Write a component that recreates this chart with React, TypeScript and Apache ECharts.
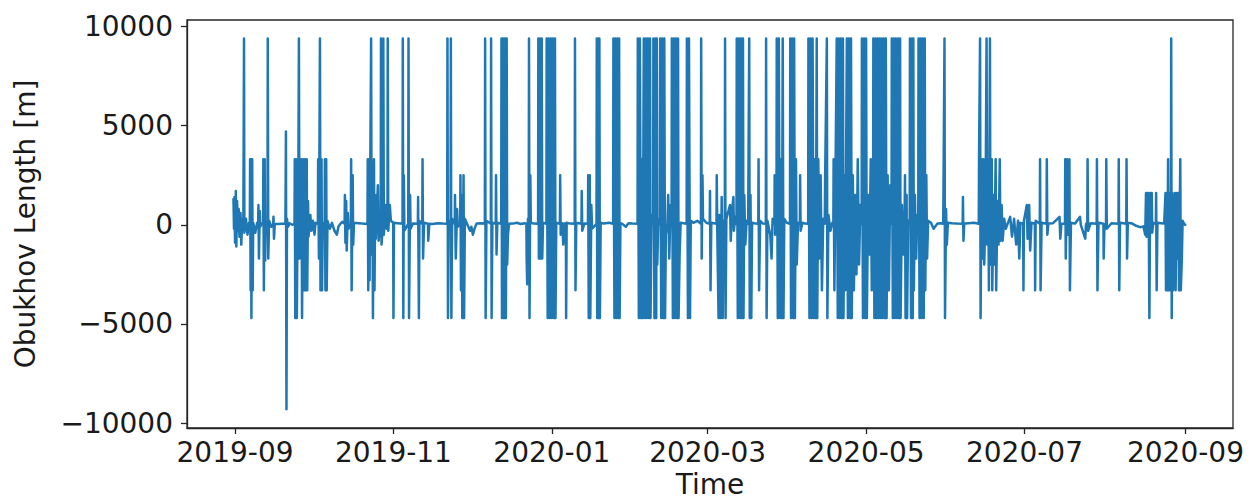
import React, { useEffect, useRef } from "react";
import * as echarts from "echarts";

// x = days since 2019-09-01, y = Obukhov length [m]
const sep2019: [number, number][] = [
  [-0.6, 1300], [-0.4, -200], [-0.2, 1400], [0.0, -900], [0.3, 1700], [0.5, -1100], [0.8, 1200], [1.0, -300],
  [1.4, 800], [1.7, -600], [2.1, 600], [2.4, -1000], [2.8, 300], [3.2, -200],
  [3.45, 9400], [3.6, -400], [4.2, 300], [4.8, -500], [5.4, 100],
  [5.7, 50], [5.8, 3300], [6.0, -3300], [6.2, 3300], [6.3, -4700], [6.6, 3300], [6.8, -3300], [7.0, 100],
  [7.8, -400], [8.5, 100],
  [8.9, 50], [9.0, 1000], [9.2, -1700], [9.5, 700], [9.7, -100],
  [10.3, 60], [10.8, 50], [10.9, 3300], [11.1, -3300], [11.4, 3300], [11.6, -1800], [11.9, 100],
  [12.5, 50], [12.6, 9400], [12.8, -1700], [13.1, 200], [14.0, -100],
  [14.7, 50], [14.8, 400], [15.0, -700], [15.3, 50], [16.5, 40], [18.0, 50], [19.4, 60],
  [19.5, 50], [19.6, 4700], [19.8, -9300], [20.0, 300], [20.4, -100], [21.0, 80], [22.0, 0],
  [22.9, 50], [23.0, 3300], [23.2, -4700], [23.5, 3300], [23.8, -4700], [24.1, 800], [24.3, -300],
  [24.6, 9400], [24.8, -1700], [25.1, 100],
  [25.5, 50], [25.6, 3300], [25.8, -4700], [26.2, 3300], [26.4, -3300], [26.9, 3300], [27.1, -3300],
  [27.6, 3300], [27.8, -3300], [28.1, 1200], [28.3, -600],
  [29.0, 500], [29.4, -300], [30.0, 200],
];

const oct2019: [number, number][] = [
  [30.6, -500], [31.0, 100],
  [31.9, 50], [32.0, 3300], [32.3, -1700], [32.7, 9400], [32.9, -3300], [33.3, 3300], [33.5, -3300], [33.8, 100],
  [34.5, 50], [34.6, 3300], [34.8, -3300], [35.1, 3300], [35.3, -3300], [35.6, 200],
  [36.5, -200], [37.3, 100], [38.3, -300], [39.2, -500], [39.8, -100], [40.6, 60], [41.3, 150],
  [42.2, 50], [42.3, 1500], [42.5, -900], [42.8, 1200], [43.0, -1300], [43.4, 600], [43.7, -200],
  [44.6, 50], [44.7, 3300], [44.9, -3300], [45.3, 2500], [45.5, -1000], [45.8, 100],
  [47.5, 80], [49.0, 60], [51.0, 40],
  [51.1, 3300], [51.3, -3300], [51.6, 3300], [51.8, -2800],
  [52.4, 9400], [52.6, -1500], [52.9, 2500], [53.1, -4700], [53.5, 3300], [53.7, -3300], [54.0, 1500], [54.2, -700],
  [55.0, 2000], [55.3, -800], [55.8, 100],
  [56.1, 50], [56.2, 9400], [56.4, -1000], [57.0, 50], [57.1, 9400], [57.3, -500], [58.0, 1000], [58.4, -200],
  [58.7, 50], [58.8, 9400], [59.0, -300], [59.6, 1000], [60.0, 200],
];

const nov2019: [number, number][] = [
  [60.9, 100], [61.0, -4700], [61.2, 100], [62.5, 80], [63.8, 60],
  [64.5, 50], [64.6, 9400], [64.8, -4700], [65.0, 2500], [65.2, -300],
  [66.7, 50], [66.8, 9400], [67.0, -4700], [67.4, 1500], [67.6, -200], [68.5, 60],
  [70.4, 50], [70.5, 1400], [70.8, -4700], [71.0, 200],
  [72.1, 50], [72.2, 3300], [72.4, -1700], [72.8, 100],
  [74.3, 50], [74.4, -800], [74.8, 50], [76.0, 40], [78.0, 80], [80.0, 60],
  [81.7, 50], [81.8, 9400], [82.0, -4700], [82.3, 200], [83.0, 50], [83.1, 9400], [83.3, -4700], [83.6, 300],
  [84.6, 50], [84.7, 1500], [85.0, -1700], [85.5, 800], [85.8, -100],
  [86.7, 50], [86.8, 2500], [87.0, -3300], [87.3, 1500], [87.5, -4700], [88.0, 2500], [88.2, -4700], [88.5, 300],
  [90.5, -300],
];

const dec2019: [number, number][] = [
  [91.0, -100], [91.6, -500], [92.2, -200], [93.0, 60], [95.0, 80],
  [96.2, 50], [96.3, 9400], [96.5, -4700], [96.8, 200], [98.5, 50], [98.6, 9400], [98.8, -4700], [99.1, 100],
  [100.4, 50], [100.5, 2500], [100.7, -1500], [101.0, 100],
  [102.5, 50], [102.6, 9400], [102.8, -4700], [103.1, 9400], [103.3, -4700], [103.6, 9400], [103.8, -4700],
  [104.1, 9400], [104.3, -4700], [104.6, 9400], [104.8, -2000], [105.1, -500], [105.5, 50],
  [107.0, 60], [108.5, 100], [110.0, 40], [111.5, 80],
  [112.2, 50], [112.3, -1700], [112.5, -3000], [112.8, 300],
  [113.1, 50], [113.2, 9400], [113.4, -4700], [113.7, 2500], [113.9, 100], [115.0, 60],
  [116.7, 50], [116.8, 9400], [117.0, -1700], [117.5, 9400], [117.7, -1700], [118.1, 9400], [118.3, -1700], [118.6, 100],
  [119.9, 50], [120.0, 9400], [120.4, -4700], [120.8, 9400], [121.2, -4700], [121.6, 9400], [122.0, -4700],
  [122.4, 9400], [122.8, -4700], [123.2, 9400], [123.4, -4700], [123.7, 100],
];

const jan2020: [number, number][] = [
  [125.1, 50], [125.2, 2500], [125.4, -500], [126.0, 80], [126.4, -1000], [126.8, 60],
  [127.4, 50], [127.5, -4700], [127.7, 100], [129.0, 60],
  [130.8, 50], [130.9, 9400], [131.1, -3300], [131.4, 100],
  [133.4, 50], [133.5, 1700], [133.7, -300], [134.5, 60],
  [135.9, 50], [136.0, 2500], [136.2, -4700], [136.6, 2500], [136.8, -4700], [137.2, 1000], [137.5, -200],
  [139.2, 50], [139.3, 9400], [139.5, -4700], [139.8, 9400], [140.0, -4700], [140.3, 9400], [140.5, -4700], [140.8, 100],
  [142.0, 60], [144.0, 100],
  [145.6, 50], [145.7, 9400], [146.1, -4700], [146.5, 9400], [146.9, -4700], [147.3, 9400], [147.7, -4700],
  [147.9, 9400], [148.1, -4700], [148.4, 60],
  [149.0, 60], [150.5, -100], [151.5, 80],
];

const feb2020: [number, number][] = [
  [153.0, 60], [155.0, 50],
  [155.1, 9400], [155.5, -4700], [155.9, 9400], [156.3, -4700], [156.7, 3300], [157.0, -4700], [157.4, 9400],
  [157.8, -4700], [158.2, 9400], [158.6, -4700], [159.0, 9400], [159.4, -4700], [159.8, 9400], [160.0, -4700], [160.4, 500],
  [161.0, 50], [161.1, 9400], [161.5, -4700], [161.9, 9400], [162.2, -4700], [162.4, 9400], [162.6, -2000], [163.0, 300],
  [163.6, 50], [163.7, 9400], [164.1, -4700], [164.5, 9400], [164.9, -4700], [165.3, 9400], [165.6, -4700], [165.9, -500],
  [166.5, 60], [166.8, 1500], [167.2, -1700], [167.7, 1000],
  [168.1, 50], [168.2, 9400], [168.6, -4700], [169.0, 9400], [169.4, -4700], [169.8, 9400], [170.2, -4700],
  [170.6, 9400], [170.8, -4700], [171.2, -1500], [171.6, 100],
  [173.9, 50], [174.0, 9400], [174.4, -4700], [174.8, 9400], [175.2, -4700], [175.5, 200],
  [176.5, 100], [178.0, 200],
  [179.4, 50], [179.5, 9400], [179.7, -1700], [180.0, 2500], [180.2, 300], [181.5, 100],
];

const mar2020: [number, number][] = [
  [182.8, 50], [182.9, 1700], [183.1, -3300], [183.4, 100],
  [185.4, 50], [185.5, 2500], [185.7, -300], [186.2, -4700], [186.5, 500], [187.0, -4700], [187.4, 1400],
  [187.8, -4700], [188.1, 200],
  [188.6, 50], [188.7, 9400], [188.9, -4700], [189.2, 300],
  [190.6, 1000], [190.9, -800], [191.3, 600], [191.9, 1400], [192.1, -300], [192.6, 400],
  [193.1, 50], [193.2, 9400], [193.6, -4700], [194.0, 9400], [194.4, -4700], [194.8, 9400], [195.2, -4700],
  [195.6, 9400], [195.8, -4700], [196.1, 1500], [196.5, -1000], [197.0, 200],
  [197.6, 50], [197.7, 2500], [198.0, 9400], [198.2, -4700], [198.5, 1500], [198.8, -4700], [199.1, 100], [200.5, 60],
  [201.5, 50], [201.6, 3300], [201.8, -3300], [202.2, 200], [203.3, 60],
  [204.4, 50], [204.5, 9400], [204.7, -4700], [205.0, 200],
  [206.1, -500], [206.6, -1700], [207.0, 300], [207.7, 50], [207.8, 2500], [208.0, -500], [208.5, 50],
  [208.6, 9400], [209.0, -4700], [209.4, 9400], [209.8, -4700], [210.2, 3300], [210.6, -4700], [210.9, 9400],
  [211.2, -4700], [211.5, 300], [212.5, 100],
];

const apr2020: [number, number][] = [
  [213.7, 50], [213.8, 9400], [214.1, -4700], [214.5, 9400], [214.9, -4700], [215.3, 9400], [215.6, -4700],
  [216.0, 3300], [216.3, -2000], [216.8, 100],
  [217.5, 50], [217.6, 2500], [217.8, -300], [218.5, 100], [219.5, 60],
  [220.7, 50], [220.8, 9400], [221.2, -4700], [221.6, 9400], [222.0, -4700], [222.4, 9400], [222.8, -4700],
  [223.2, 3300], [223.6, -4700], [224.0, 9400], [224.2, -4700], [224.6, 3300], [225.0, -1700], [225.5, 2500],
  [226.0, -3300], [226.5, 300],
  [227.1, 50], [227.2, 2000], [227.9, 9400], [228.1, -4700], [228.5, 500], [229.3, -300], [230.0, 100],
  [230.4, 50], [230.5, 3300], [230.8, -3300], [231.2, 2000], [231.7, 9400], [232.1, -4700], [232.5, 9400],
  [232.9, -4700], [233.3, 9400], [233.7, -4700], [234.1, 9400], [234.3, -4700], [234.7, 2500], [235.0, -3300],
  [235.6, 9400], [236.0, -4700], [236.4, 9400], [236.8, -4700], [237.2, 9400], [237.5, -4700], [237.9, 2500],
  [238.3, -3300], [238.8, 1500], [239.3, -2500], [239.8, 3300], [240.3, -2000], [240.8, 1000],
  [241.3, 50], [241.4, 9400], [241.8, -4700], [242.2, 9400], [242.6, -4700], [243.0, 9400], [243.3, -4700],
  [243.8, 1500], [244.3, -1500], [244.8, 3300], [245.2, -3300],
];

const may2020: [number, number][] = [
  [245.7, 50], [245.8, 9400], [246.2, -4700], [246.6, 9400], [247.0, -4700], [247.4, 9400], [247.8, -4700],
  [248.2, 9400], [248.6, -4700], [249.0, 9400], [249.4, -4700], [249.8, 9400], [250.2, -4700], [250.6, 9400],
  [250.9, -4700], [251.3, 2500], [251.8, -3300], [252.3, 2000],
  [252.8, 50], [252.9, 9400], [253.3, -4700], [253.7, 9400], [254.1, -4700], [254.5, 9400], [254.9, -4700],
  [255.3, 9400], [255.7, -4700], [256.1, 9400], [256.3, -4700], [256.8, 1000], [257.3, -1500],
  [257.8, 50], [258.0, 2500], [258.2, -4700], [258.6, 1500], [258.8, -4700], [259.2, 200],
  [259.8, 50], [259.9, 9400], [260.3, -4700], [260.7, 9400], [261.0, -4700], [261.2, 9400], [261.4, -3300],
  [261.8, 1500], [262.3, -1700], [262.7, 500],
  [263.1, 50], [263.2, 9400], [263.6, -4700], [264.0, 9400], [264.4, -4700], [264.8, 9400], [265.2, -4700],
  [265.6, 9400], [265.8, -3300], [266.2, 2500], [266.5, -1700], [266.9, 200],
  [268.0, 100], [269.0, -200], [270.5, 60], [272.0, 80],
  [272.7, 50], [272.8, 1500], [273.2, 9400], [273.4, -4700], [273.8, 800], [274.1, -1000], [274.5, 100],
];

const jun2020: [number, number][] = [
  [276.0, 80], [278.0, 60], [280.2, 50], [280.3, 1400], [280.5, -800], [280.8, 60], [282.5, 80], [284.5, 100],
  [286.4, 50], [286.5, 3300], [286.9, 9400], [287.1, -4700], [287.5, 3300], [287.8, -1700], [288.2, 3300],
  [288.5, -2000], [289.0, 500], [289.4, 9400], [289.6, -1000], [290.0, 3300], [290.3, -3300], [290.7, 9400],
  [290.9, -2000], [291.4, 3300], [291.6, -3300], [292.1, 1500], [292.4, -2000], [292.9, 3300], [293.1, -3300],
  [293.6, 1200], [294.0, -1000], [294.5, 3300], [294.7, -800], [295.2, 1000], [295.6, -800], [296.2, 300],
  [296.8, -200], [298.5, 400], [299.2, -600], [300.0, 300], [300.8, -1000], [301.5, 200], [302.0, -1700], [302.4, 100],
];

const jul2020: [number, number][] = [
  [303.5, 50], [303.6, -3300], [303.8, 200], [304.9, 1000], [305.2, -700], [305.8, 1000], [306.2, -1300], [306.7, 100],
  [308.0, 50], [308.1, -3300], [308.3, 200], [309.9, 50], [310.0, 3300], [310.2, -3300], [310.6, 100],
  [312.5, 50], [312.6, 3300], [312.8, -500], [313.2, 60], [315.0, 80],
  [317.5, 400], [317.8, -700], [318.2, 50],
  [319.6, 50], [319.7, 3300], [319.9, -1700], [320.4, 3300], [320.6, -500], [321.3, 3300], [321.5, -3300], [321.9, 100],
  [323.5, 60], [325.4, 400], [325.7, 0], [327.4, -700], [327.7, 50], [328.2, 50], [328.3, 3300], [328.5, -300], [329.5, 80],
  [331.8, 50], [331.9, 3300], [332.1, -3300], [332.5, 100],
  [334.4, 50], [334.5, -1700], [334.8, 0],
];

const aug2020: [number, number][] = [
  [335.4, 50], [335.5, 3300], [335.7, -200], [337.5, 80],
  [340.2, 50], [340.3, 3300], [340.5, -3300], [340.8, 100],
  [343.2, 50], [343.3, 3300], [343.5, -1700], [343.8, 100],
  [345.5, 60], [347.0, -50], [348.5, -120], [349.8, -80],
  [350.5, -500], [350.8, 1600], [351.0, -600], [351.3, 1600], [351.6, -500], [351.8, 1600], [352.1, -4700],
  [352.4, 1600], [352.6, -300], [353.0, 1600], [353.2, -400], [353.6, 100],
  [354.6, 50], [354.7, 1600], [354.9, -3300], [355.2, 100], [356.5, 80], [357.8, 60],
  [358.3, 1600], [358.5, -3300], [358.8, 1600], [359.0, -3300], [359.3, 3300], [359.5, -3300], [359.8, 1600],
  [360.0, -3300], [360.4, 50], [360.5, 9400], [360.7, -4700], [361.0, 1600], [361.2, -3300],
  [362.0, 1600], [362.2, -3300], [362.6, 1600], [362.8, -1700], [363.3, 1600], [363.5, -3300], [364.0, 3300],
  [364.2, -3300], [364.6, -1700], [364.9, 200], [365.5, 50], [365.9, 0],
];

const xTickDays = [0, 61, 122, 182, 243, 304, 366];
const xTickLabels = ["2019-09", "2019-11", "2020-01", "2020-03", "2020-05", "2020-07", "2020-09"];
const yTicks = [-10000, -5000, 0, 5000, 10000];

const TEXT = "#1a1a1a";
const FONT = "DejaVu Sans";
const SPINE = "#262626";

export default function App() {
  const ref = useRef<HTMLDivElement>(null);
  useEffect(() => {
    if (!ref.current) return;
    const chart = echarts.init(ref.current, undefined, { renderer: "svg" });
    const data = [
      ...sep2019, ...oct2019, ...nov2019, ...dec2019, ...jan2020, ...feb2020,
      ...mar2020, ...apr2020, ...may2020, ...jun2020, ...jul2020, ...aug2020,
    ];
    chart.setOption({
      animation: false,
      backgroundColor: "#ffffff",
      grid: {
        left: 187, right: 22, top: 20, bottom: 74,
        outerBoundsMode: "none",
        containLabel: false,
        show: true, borderColor: SPINE, borderWidth: 1.3, backgroundColor: "transparent",
      },
      xAxis: {
        type: "value",
        min: -18.5,
        max: 384.3,
        name: "Time",
        nameLocation: "middle",
        nameGap: 42,
        nameTextStyle: { fontFamily: FONT, fontSize: 28, color: TEXT },
        axisLine: { show: true, onZero: false, lineStyle: { color: SPINE, width: 1.3 } },
        axisTick: { show: true, length: 6, customValues: xTickDays, lineStyle: { color: SPINE, width: 1.3 } },
        axisLabel: {
          customValues: xTickDays,
          margin: 10,
          fontFamily: FONT, fontSize: 28, color: TEXT,
          formatter: (v: number) => {
            const i = xTickDays.indexOf(Math.round(v));
            return i >= 0 ? xTickLabels[i] : "";
          },
        },
        splitLine: { show: false },
      },
      yAxis: {
        type: "value",
        min: -10250,
        max: 10330,
        name: "Obukhov Length [m]",
        nameLocation: "middle",
        nameGap: 148,
        nameTextStyle: { fontFamily: FONT, fontSize: 28, color: TEXT },
        axisLine: { show: true, onZero: false, lineStyle: { color: SPINE, width: 1.3 } },
        axisTick: { show: true, length: 6, customValues: yTicks, lineStyle: { color: SPINE, width: 1.3 } },
        axisLabel: {
          customValues: yTicks,
          margin: 14,
          fontFamily: FONT, fontSize: 28, color: TEXT,
          formatter: (v: number) => (v < 0 ? "\u2212" + Math.abs(v) : String(v)),
        },
        splitLine: { show: false },
      },
      series: [
        {
          type: "line",
          data,
          showSymbol: false,
          symbol: "none",
          lineStyle: { color: "#1f77b4", width: 2.5, join: "round", cap: "round" },
          z: 3,
        },
      ],
    });
    return () => chart.dispose();
  }, []);
  return (
    <div
      ref={ref}
      style={{ position: "absolute", left: 0, top: 0, width: 1255, height: 502, background: "#fff" }}
    />
  );
}
